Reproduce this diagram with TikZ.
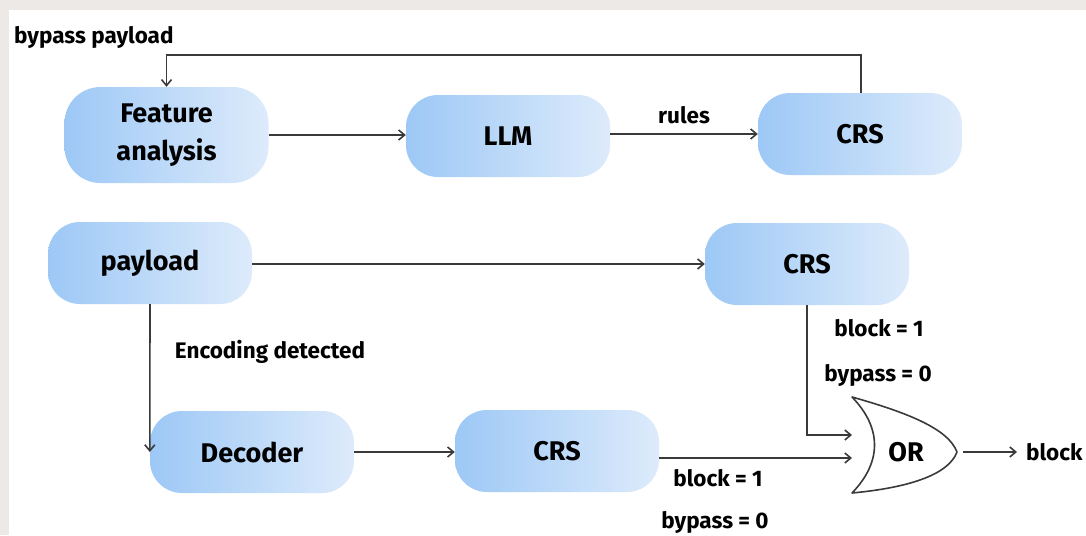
\documentclass[tikz,border=0pt]{standalone}
\usepackage{fontspec}
\setmainfont{Fira Sans}
\usetikzlibrary{arrows.meta,calc}
\definecolor{frame}{HTML}{EDE9E6}
\definecolor{boxL}{HTML}{9DC8F6}
\definecolor{boxR}{HTML}{DDEBFB}
\definecolor{ink}{HTML}{3A3A3A}
\tikzset{
  box/.style={rounded corners=32pt, minimum width=204pt, minimum height=82pt,
    left color=boxL, right color=boxR, draw=none, inner sep=0pt,
    font=\fontsize{27}{38}\selectfont\bfseries, align=center, text=black},
  lbl/.style={font=\fontsize{22.5}{26}\selectfont\bfseries, text=black, inner sep=0pt},
  wire/.style={draw=ink, line width=1.6pt},
  arr/.style={wire, -{Straight Barb[length=6pt,width=10pt,line width=1.6pt]}},
}
\begin{document}
\begin{tikzpicture}[x=1pt,y=-1pt]
  % page and its grey frame
  \fill[frame] (0,0) rectangle (1086,535);
  \fill[white] (9,10) rectangle (1086,535);
  \useasboundingbox (0,0) rectangle (1086,535);

  % upper chain
  \node[box, minimum height=96pt, rounded corners=36pt] (feat) at (166.5,135) {Feature\\analysis};
  \node[box] (llm) at (508,136) {LLM};
  \node[box] (crs1) at (860,134) {CRS};
  \draw[arr] (feat.east |- 0,135) -- (llm.west |- 0,135);
  \draw[arr] (llm.east |- 0,134) -- node[lbl, above=9pt] (rules) {rules} (crs1.west |- 0,134);
  \coordinate (fb) at (861,55);
  \draw[arr] (crs1.north -| fb) -- (fb) -| (feat.north);
  \node[lbl, anchor=west] (bp) at (14,37) {bypass payload};

  % lower chain
  \node[box] (pay) at (150,263) {payload};
  \node[box] (crs2) at (807,264) {CRS};
  \node[box] (dec) at (252,452) {Decoder};
  \node[box] (crs3) at (557,451) {CRS};
  \draw[arr] (pay.east |- 0,264) -- (crs2.west |- 0,264);
  \draw[arr] (pay.south) -- (dec.west);
  \node[lbl] (enc) at (270,352) {Encoding detected};
  \draw[arr] (dec.east |- 0,452) -- (crs3.west |- 0,452);

  % OR gate
  \coordinate (gt) at (852,397);
  \coordinate (gb) at (852,493);
  \coordinate (ga) at (957,452);
  \draw[ink, line width=1.6pt, line join=round]
    (gt) .. controls (905,412) and (948,428) .. (ga)
    .. controls (948,476) and (905,488) .. (gb)
    .. controls (882,462) and (882,428) .. (gt) -- cycle;
  \node[font=\fontsize{27}{30}\selectfont\bfseries] (or) at (906,452) {OR};
  \coordinate (in1) at (852,435);
  \coordinate (in2) at (852,458);
  \draw[arr] (crs2.south) |- (in1);
  \draw[arr] (crs3.east |- in2) -- (in2);
  \node[lbl] (b1) at (879,328) {block = 1};
  \node[lbl] (p1) at (878,375) {bypass = 0};
  \node[lbl] (b2) at (718,478) {block = 1};
  \node[lbl] (p2) at (715,522) {bypass = 0};

  % output
  \node[lbl, anchor=west] (out) at (1026,452) {block};
  \coordinate (o0) at (963,452);
  \draw[arr] (o0) -- ([xshift=-9pt]out.west);
\end{tikzpicture}
\end{document}
